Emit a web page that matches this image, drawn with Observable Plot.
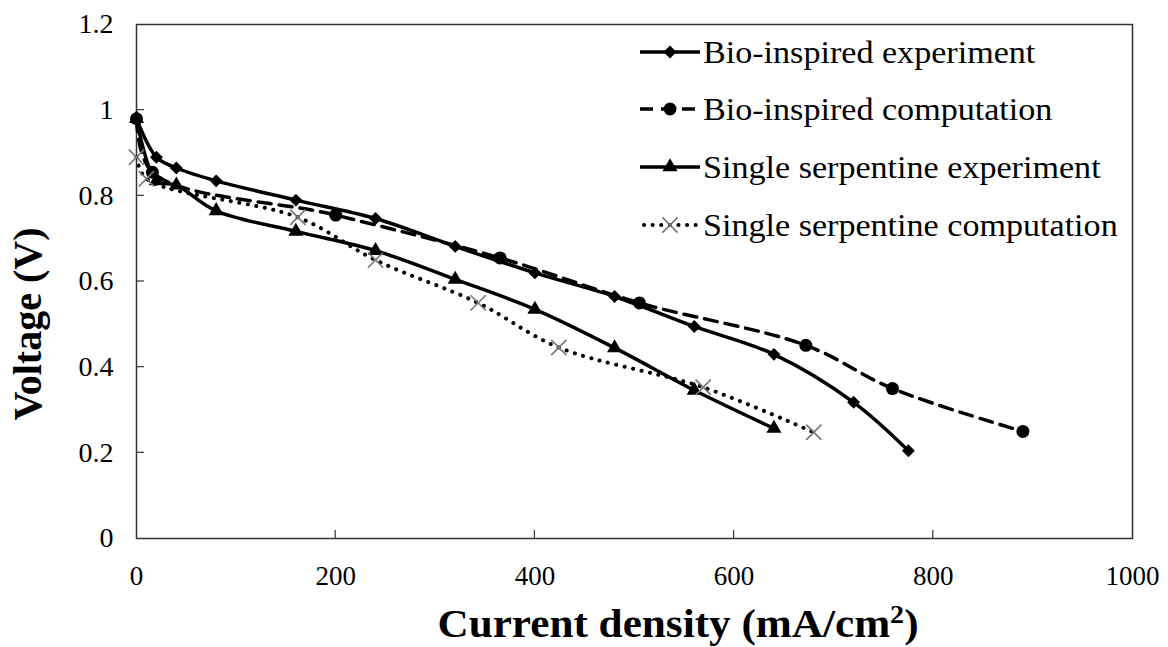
<!DOCTYPE html>
<html>
<head>
<meta charset="utf-8">
<script src="https://cdn.jsdelivr.net/npm/d3@7"></script>
<script src="https://cdn.jsdelivr.net/npm/@observablehq/plot@0.6"></script>
<style>
  html, body { margin: 0; padding: 0; background: #fff; }
  #chart { width: 1168px; height: 647px; }
</style>
</head>
<body>
<div id="chart"></div>
<script>
// ---- data ----
const seriesNames = [
  "Bio-inspired experiment",
  "Bio-inspired computation",
  "Single serpentine experiment",
  "Single serpentine computation"
];
const bioExpX = [0, 20, 40, 80, 160, 240, 320, 400, 480, 560, 640, 720, 775];
const bioExpY = [0.98, 0.89, 0.865, 0.835, 0.79, 0.747, 0.682, 0.62, 0.565, 0.495, 0.43, 0.318, 0.205];
const bioCompX = [0, 16, 200, 365, 505, 672, 759, 890];
const bioCompY = [0.98, 0.855, 0.755, 0.655, 0.55, 0.451, 0.35, 0.25];
const serExpX = [0, 20, 40, 80, 160, 240, 320, 400, 480, 560, 640];
const serExpY = [0.98, 0.835, 0.825, 0.765, 0.717, 0.672, 0.605, 0.535, 0.445, 0.346, 0.257];
const serCompX = [0, 10, 162, 240, 343, 424, 569, 680];
const serCompY = [0.89, 0.84, 0.75, 0.65, 0.55, 0.446, 0.353, 0.248];
const xTicks = [0, 200, 400, 600, 800, 1000];
const yTicks = [0, 0.2, 0.4, 0.6, 0.8, 1.0, 1.2];
const xTitleMain = "Current density (mA/cm";
const xTitleSup = "2";
const xTitleEnd = ")";
const yTitle = "Voltage (V)";

const toRows = (xs, ys) => xs.map((x, i) => ({x, y: ys[i]}));
const bioExp = toRows(bioExpX, bioExpY);
const bioComp = toRows(bioCompX, bioCompY);
const serExp = toRows(serExpX, serExpY);
const serComp = toRows(serCompX, serCompY);

const FONT = "'Liberation Serif', 'Times New Roman', serif";
const W = 1168, H = 647;
const mL = 136, mR = 36, mT = 24, mB = 109;

const lineBase = {x: "x", y: "y", curve: "catmull-rom", stroke: "black", strokeWidth: 3.5};

const chart = Plot.plot({
  width: W,
  height: H,
  marginLeft: mL,
  marginRight: mR,
  marginTop: mT,
  marginBottom: mB,
  style: {fontFamily: FONT, background: "white", color: "black"},
  x: {type: "linear", domain: [0, 1000]},
  y: {type: "linear", domain: [0, 1.2]},
  marks: [
    Plot.frame({stroke: "#333", strokeWidth: 1.5}),
    Plot.axisX({ticks: xTicks, tickSize: 0, tickPadding: 27, fontSize: 27, label: null, tickFormat: d => String(d)}),
    Plot.axisY({ticks: yTicks, tickSize: 0, tickPadding: 23, fontSize: 28, label: null, tickFormat: d => String(+d.toFixed(1))}),
    Plot.line(bioComp, {...lineBase, strokeDasharray: "13,8"}),
    Plot.line(bioExp, lineBase),
    Plot.line(serExp, lineBase),
    Plot.line(serComp, {...lineBase, strokeWidth: 4, strokeDasharray: "0.1,8.5", strokeLinecap: "round"}),
    Plot.dot(bioComp, {x: "x", y: "y", symbol: "circle", r: 6.5, fill: "black", stroke: "none"}),
    Plot.dot(bioExp, {x: "x", y: "y", symbol: "diamond2", r: 5.8, fill: "black", stroke: "none"}),
    Plot.dot(serExp, {x: "x", y: "y", symbol: "triangle", r: 5.6, fill: "black", stroke: "none"}),
    Plot.dot(serComp, {x: "x", y: "y", symbol: "times", r: 7, stroke: "#777", strokeWidth: 1.6, fill: "none"})
  ]
});

document.getElementById("chart").appendChild(chart);

const svg = d3.select(chart);
const yScale = chart.scale("y");
const xScale = chart.scale("x");

// inward tick marks (Excel style)
const tg = svg.append("g").attr("stroke", "#333").attr("stroke-width", 1.2);
yTicks.slice(1, -1).forEach(v => {
  const py = yScale.apply(v);
  tg.append("line").attr("x1", mL).attr("x2", mL + 8).attr("y1", py).attr("y2", py);
});
xTicks.slice(1, -1).forEach(v => {
  const px = xScale.apply(v);
  tg.append("line").attr("x1", px).attr("x2", px).attr("y1", H - mB).attr("y2", H - mB - 8);
});

// axis titles
const xt = svg.append("text")
  .attr("transform", "translate(678,637) scale(1.08,1)")
  .attr("text-anchor", "middle")
  .attr("font-family", FONT).attr("font-weight", "bold").attr("font-size", 40)
  .attr("fill", "black");
xt.append("tspan").text(xTitleMain);
xt.append("tspan").attr("font-size", 26).attr("dy", -14).text(xTitleSup);
xt.append("tspan").attr("dy", 14).text(xTitleEnd);

svg.append("text")
  .attr("transform", `translate(41,324) rotate(-90)`)
  .attr("text-anchor", "middle")
  .attr("font-family", FONT).attr("font-weight", "bold").attr("font-size", 40)
  .attr("fill", "black")
  .text(yTitle);

// legend (inside plot, top-right)
const legendRows = [52, 109, 167, 225];
const lg = svg.append("g").attr("text-anchor", "start");
const symbols = [d3.symbolDiamond2, d3.symbolCircle, d3.symbolTriangle, d3.symbolTimes];
const sizes = [Math.PI * 5.8 * 5.8, Math.PI * 6.5 * 6.5, Math.PI * 5.6 * 5.6, Math.PI * 7 * 7];
seriesNames.forEach((name, i) => {
  const y = legendRows[i];
  const ln = lg.append("line").attr("x1", 640).attr("x2", 700).attr("y1", y).attr("y2", y)
    .attr("stroke", "black").attr("stroke-width", i === 3 ? 4 : 3.5);
  if (i === 1) ln.attr("stroke-dasharray", "13,8").attr("x1", 640);
  if (i === 3) ln.attr("stroke-dasharray", "0.1,8.5").attr("stroke-linecap", "round").attr("x1", 644).attr("x2", 698);
  const p = lg.append("path").attr("d", d3.symbol(symbols[i], sizes[i])()).attr("transform", `translate(670,${y})`);
  if (i === 3) p.attr("fill", "none").attr("stroke", "#777").attr("stroke-width", 1.6);
  else p.attr("fill", "black");
  lg.append("text").attr("transform", `translate(703,${y}) scale(1.1,1)`).attr("dy", "0.35em").attr("text-anchor", "start")
    .attr("font-family", FONT).attr("font-size", 31).attr("fill", "black").text(name);
});
</script>
</body>
</html>
